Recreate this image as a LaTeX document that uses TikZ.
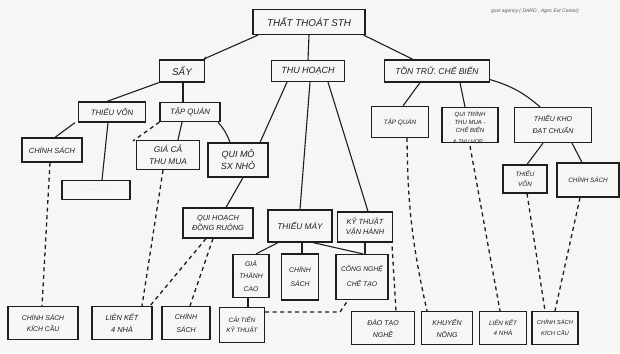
\documentclass[tikz,border=0pt]{standalone}
\usepackage{fontspec}
\setmainfont{Liberation Sans}
\usetikzlibrary{arrows.meta}
\definecolor{paper}{RGB}{246,246,244}
\definecolor{ink}{RGB}{30,30,30}
\tikzset{
  box/.style={draw=ink, line width=1.2pt, inner sep=1pt, align=center, text=ink,
              font=\itshape\fontsize{7.4}{10}\selectfont},
  big/.style={font=\itshape\fontsize{9.8}{11}\selectfont},
  mid/.style={font=\itshape\fontsize{7.8}{10}\selectfont},
  small/.style={font=\itshape\fontsize{6.3}{10}\selectfont},
  link/.style={draw=ink, line width=1.1pt},
  dlink/.style={draw=ink, line width=1.3pt, dash pattern=on 4pt off 3.5pt},
  note/.style={text=ink!75, font=\itshape\fontsize{5}{6}\selectfont, inner sep=0pt},
}
\begin{document}
\begin{tikzpicture}[x=1pt,y=-1pt]
\fill[paper] (0,0) rectangle (620,353);
\useasboundingbox (0,0) rectangle (620,353);

% handwritten note, top right
\node[note] (agency) at (535,11) {govt agency ( DARD , Agric Ext Center)};

% root and first level
\node[box, big, minimum width=112pt, minimum height=25pt] (sth) at (309,22) {THẤT THOÁT STH};
\node[box, big, minimum width=45pt, minimum height=22pt] (say) at (182,71) {SẤY};
\node[box, big, font=\itshape\fontsize{9}{10}\selectfont, minimum width=73pt, minimum height=21pt] (thu) at (308,71) {THU HOẠCH};
\node[box, big, font=\itshape\fontsize{8.5}{10}\selectfont, minimum width=105pt, minimum height=22pt] (ton) at (437,71) {TỒN TRỮ. CHẾ BIẾN};

% SẤY branch
\node[box, mid, minimum width=67pt, minimum height=20pt] (tvon) at (112,112) {THIẾU VỐN};
\node[box, mid, minimum width=60pt, minimum height=19pt] (tq1) at (190,112) {TẬP QUÁN};
\node[box, minimum width=60pt, minimum height=24pt] (cs1) at (52,150) {CHÍNH SÁCH};
\node[box, text=ink!45, minimum width=68pt, minimum height=19pt] (emp) at (96,190) {$\cdot\ \cdot\ \cdot\ \cdot\ \cdot$};
\node[box, font=\itshape\fontsize{8.3}{12}\selectfont, minimum width=63pt, minimum height=29pt] (gia) at (168,155) {GIÁ CẢ\\THU MUA};
\node[box, font=\itshape\fontsize{9}{12}\selectfont, minimum width=60pt, minimum height=34pt] (qmo) at (238,160) {QUI MÔ\\SX NHỎ};
\node[box, minimum width=70pt, minimum height=30pt] (qhd) at (218,223) {QUI HOẠCH\\ĐỒNG RUỘNG};

% THU HOẠCH branch
\node[box, mid, font=\itshape\fontsize{8.3}{10}\selectfont, minimum width=64pt, minimum height=32pt] (tmay) at (300,226) {THIẾU MÁY};
\node[box, minimum width=55pt, minimum height=30pt] (ktvh) at (365,227) {KỸ THUẬT\\VẬN HÀNH};
\node[box, font=\itshape\fontsize{6.8}{12.5}\selectfont, minimum width=36pt, minimum height=43pt] (gtc) at (251,276) {GIÁ\\THÀNH\\CAO};
\node[box, font=\itshape\fontsize{6.8}{14}\selectfont, minimum width=37pt, minimum height=46pt] (cs2) at (300,277) {CHÍNH\\SÁCH};
\node[box, font=\itshape\fontsize{6.8}{15}\selectfont, minimum width=52pt, minimum height=45pt] (cnct) at (362,277) {CÔNG NGHỆ\\CHẾ TẠO};

% TỒN TRỮ branch
\node[box, small, minimum width=57pt, minimum height=31pt] (tq2) at (400,122) {TẬP QUÁN};
\node[box, font=\itshape\fontsize{6}{8}\selectfont, minimum width=56pt, minimum height=35pt, text depth=6pt] (qt) at (470,125) {QUI TRÌNH\\THU MUA -\\CHẾ BIẾN};
\node[text=ink, font=\itshape\fontsize{5.4}{6}\selectfont, inner sep=0pt] (qtx) at (468,142.5) {\& THU HỢP};
\node[box, font=\itshape\fontsize{7}{12}\selectfont, minimum width=77pt, minimum height=35pt] (tkho) at (553,125) {THIẾU KHO\\ĐẠT CHUẨN};
\node[box, small, minimum width=44pt, minimum height=28pt] (tvon2) at (525,179) {THIẾU\\VỐN};
\node[box, small, minimum width=62pt, minimum height=34pt] (cs3) at (588,180) {CHÍNH SÁCH};

% bottom row
\node[box, font=\itshape\fontsize{6.8}{11}\selectfont, minimum width=70pt, minimum height=33pt] (cskc1) at (43,323) {CHÍNH SÁCH\\KÍCH CẦU};
\node[box, font=\itshape\fontsize{7.4}{12}\selectfont, minimum width=60pt, minimum height=33pt] (lk1) at (122,323) {LIÊN KẾT\\4 NHÀ};
\node[box, font=\itshape\fontsize{7}{13}\selectfont, minimum width=48pt, minimum height=33pt] (cs4) at (186,323) {CHÍNH\\SÁCH};
\node[box, small, minimum width=45pt, minimum height=35pt] (ctkt) at (242,325) {CẢI TIẾN\\KỸ THUẬT};
\node[box, font=\itshape\fontsize{7}{12}\selectfont, minimum width=63pt, minimum height=33pt] (dtn) at (383,328) {ĐÀO TẠO\\NGHỀ};
\node[box, font=\itshape\fontsize{7}{12}\selectfont, minimum width=51pt, minimum height=33pt] (kn) at (447,328) {KHUYẾN\\NÔNG};
\node[box, small, minimum width=47pt, minimum height=33pt] (lk2) at (503,328) {LIÊN KẾT\\4 NHÀ};
\node[box, font=\itshape\fontsize{5.8}{11}\selectfont, minimum width=46pt, minimum height=33pt] (cskc2) at (555,328) {CHÍNH SÁCH\\KÍCH CẦU};

% solid links
\draw[link, -{Stealth[length=4pt,width=3pt]}] ([xshift=-51pt]sth.south) -- ([xshift=21pt]say.north);
\draw[link] (sth.south) -- (thu.north);
\draw[link] ([xshift=-2pt]sth.south east) -- ([xshift=-24pt]ton.north);
\draw[link] (say.south west) -- ([xshift=-5pt]tvon.north);
\draw[link] ([xshift=1pt]say.south) -- ([xshift=-7pt]tq1.north);
\draw[link] ([xshift=-37pt]tvon.south) -- ([xshift=3pt]cs1.north);
\draw[link] ([xshift=-4pt]tvon.south) -- ([xshift=6pt]emp.north);
\draw[link] ([xshift=-8pt]tq1.south) -- ([xshift=10pt]gia.north);
\draw[link] ([xshift=28pt]tq1.south) to[bend left=10] ([xshift=-8pt]qmo.north);
\draw[link] ([xshift=-21pt]thu.south) -- ([xshift=22pt]qmo.north);
\draw[link] ([xshift=2pt]thu.south) -- (tmay.north);
\draw[link] ([xshift=20pt]thu.south) -- ([xshift=3pt]ktvh.north);
\draw[link] ([xshift=5pt]qmo.south) -- ([xshift=8pt]qhd.north);
\draw[link] ([xshift=-22pt]tmay.south) -- ([xshift=5pt]gtc.north);
\draw[link] ([xshift=2pt]tmay.south) -- ([xshift=2pt]cs2.north);
\draw[link] ([xshift=13pt]tmay.south) -- ([xshift=1pt]cnct.north);
\draw[draw=ink, line width=2.2pt] (ktvh.south) -- (ktvh.south |- cnct.north);
\draw[link] ([xshift=-3pt]gtc.south) -- ([xshift=6pt]ctkt.north);
\draw[link] ([xshift=-17pt]ton.south) -- ([xshift=3pt]tq2.north);
\draw[link] ([xshift=23pt]ton.south) -- ([xshift=-5pt]qt.north);
\draw[link] ([yshift=3pt]ton.south east) to[bend left=12] ([xshift=-13pt]tkho.north);
\draw[link] ([xshift=-10pt]tkho.south) -- ([xshift=2pt]tvon2.north);
\draw[link] ([xshift=19pt]tkho.south) -- ([xshift=-6pt]cs3.north);

% dashed links
\coordinate (tqend) at (133,141);
\coordinate (bend1) at (340,312);
\draw[dlink] (tq1.south west) -- (tqend);
\draw[dlink] ([xshift=-2pt]cs1.south) -- ([xshift=-1pt]cskc1.north);
\draw[dlink] ([xshift=-5pt]gia.south) -- ([xshift=20pt]lk1.north);
\draw[dlink] ([xshift=-12pt]qhd.south) -- ([xshift=28pt]lk1.north);
\draw[dlink] ([xshift=-5pt]qhd.south) -- ([xshift=4pt]cs4.north);
\draw[dlink] ([yshift=13pt]ctkt.east) -- (bend1) -- ([xshift=-14pt]cnct.south);
\draw[dlink] ([xshift=-1pt,yshift=-4pt]ktvh.south east) -- ([xshift=13pt]dtn.north);
\draw[dlink] ([xshift=7pt]tq2.south) to[bend right=6] ([xshift=-20pt]kn.north);
\draw[dlink] ([yshift=-3pt]qt.south) -- ([xshift=-3pt]lk2.north);
\draw[dlink] ([xshift=2pt]tvon2.south) -- ([xshift=-10pt]cskc2.north);
\draw[dlink] ([xshift=-8pt]cs3.south) -- (cskc2.north);
\end{tikzpicture}
\end{document}
